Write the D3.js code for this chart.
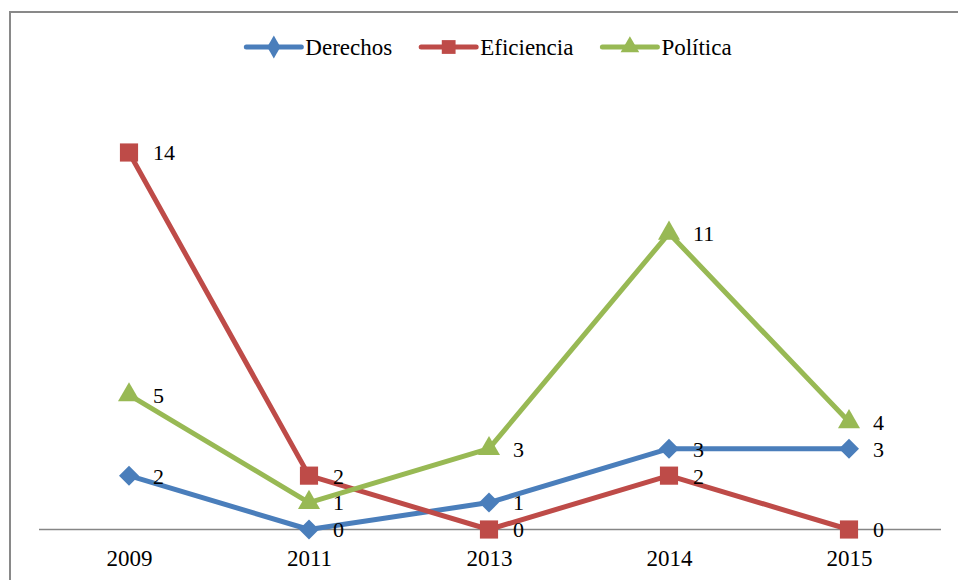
<!DOCTYPE html>
<html>
<head>
<meta charset="utf-8">
<script src="https://cdn.jsdelivr.net/npm/d3@7"></script>
<style>
  html, body { margin: 0; padding: 0; background: #fff; }
  svg { display: block; }
  svg text { font-family: "Liberation Serif", "Times New Roman", Times, serif !important; fill: #000; }
</style>
</head>
<body>
<svg id="chart" width="958" height="580"></svg>
<script>
const categories = ["2009", "2011", "2013", "2014", "2015"];
const derechos = [2, 0, 1, 3, 3];
const eficiencia = [14, 2, 0, 2, 0];
const politica = [5, 1, 3, 11, 4];
const seriesNames = ["Derechos", "Eficiencia", "Política"];
const seriesColors = ["#4A7EBB", "#BE4B48", "#98B954"];
const seriesSymbols = [d3.symbolSquare, d3.symbolSquare, d3.symbolTriangle];
const seriesRotate = [45, 0, 0];
const seriesSizes = [200, 330, 210];

const series = [derechos, eficiencia, politica].map((vals, i) => ({
  name: seriesNames[i], values: vals, color: seriesColors[i],
  symbol: seriesSymbols[i], rot: seriesRotate[i], size: seriesSizes[i]
}));

const svg = d3.select("#chart");
const FONT = '"Liberation Serif", "Times New Roman", serif';

// outer frame (extends beyond the visible area on right/bottom)
svg.append("rect")
  .attr("x", 10).attr("y", 12)
  .attr("width", 1000).attr("height", 1000)
  .attr("fill", "none").attr("stroke", "#898989").attr("stroke-width", 2);

const x = d3.scalePoint().domain(categories).range([129, 849]);
const y = d3.scaleLinear().domain([0, 14]).range([529.5, 152.5]);

// axis line
svg.append("line")
  .attr("x1", 39).attr("x2", 941)
  .attr("y1", y(0)).attr("y2", y(0))
  .attr("stroke", "#868686").attr("stroke-width", 1.5);

// tick labels
const xAxis = d3.axisBottom(x).tickSize(0).tickPadding(0);
const gx = svg.append("g").attr("transform", `translate(0,${y(0)})`).call(xAxis);
gx.attr("font-family", FONT);
gx.select(".domain").remove();
gx.selectAll("text")
  .attr("y", 36).attr("dy", 0)
  .attr("font-family", FONT)
  .style("font-size", "23px")
  .attr("fill", "#000");

const line = d3.line().x((d, i) => x(categories[i])).y(d => y(d));

series.forEach(s => {
  svg.append("path")
    .datum(s.values)
    .attr("d", line)
    .attr("fill", "none")
    .attr("stroke", s.color)
    .attr("stroke-width", 5)
    .attr("stroke-linejoin", "round");
});

series.forEach(s => {
  const sym = d3.symbol().type(s.symbol).size(s.size);
  svg.append("g").selectAll("path")
    .data(s.values)
    .join("path")
    .attr("d", sym)
    .attr("transform", (d, i) => `translate(${x(categories[i])},${y(d)}) rotate(${s.rot})`)
    .attr("fill", s.color);
});

series.forEach(s => {
  svg.append("g").selectAll("text")
    .data(s.values)
    .join("text")
    .attr("x", (d, i) => x(categories[i]) + 24)
    .attr("y", d => y(d))
    .attr("dy", "0.36em")
    .attr("font-family", FONT)
    .style("font-size", "22px")
    .text(d => d);
});

// legend
const legend = svg.append("g");
const items = [];
const legendSyms = [d3.symbolDiamond, d3.symbolSquare, d3.symbolTriangle];
const legendSizes = [150, 190, 150];
series.forEach((s, i) => {
  const g = legend.append("g");
  g.append("line")
    .attr("x1", 0).attr("x2", 55).attr("y1", 0).attr("y2", 0)
    .attr("stroke", s.color).attr("stroke-width", 5).attr("stroke-linecap", "round");
  g.append("path")
    .attr("d", d3.symbol().type(legendSyms[i]).size(legendSizes[i])())
    .attr("transform", "translate(27.5,0)")
    .attr("fill", s.color);
  const t = g.append("text")
    .attr("x", 59).attr("y", 0).attr("dy", "0.33em")
    .attr("font-family", FONT)
    .style("font-size", "23px")
    .text(s.name);
  const w = 59 + t.node().getComputedTextLength();
  items.push({ g, w });
});
const gap = 29;
const total = items.reduce((a, b) => a + b.w, 0) + gap * (items.length - 1);
let start = 489 - total / 2;
items.forEach(it => {
  it.g.attr("transform", `translate(${start},47)`);
  start += it.w + gap;
});
</script>
</body>
</html>
